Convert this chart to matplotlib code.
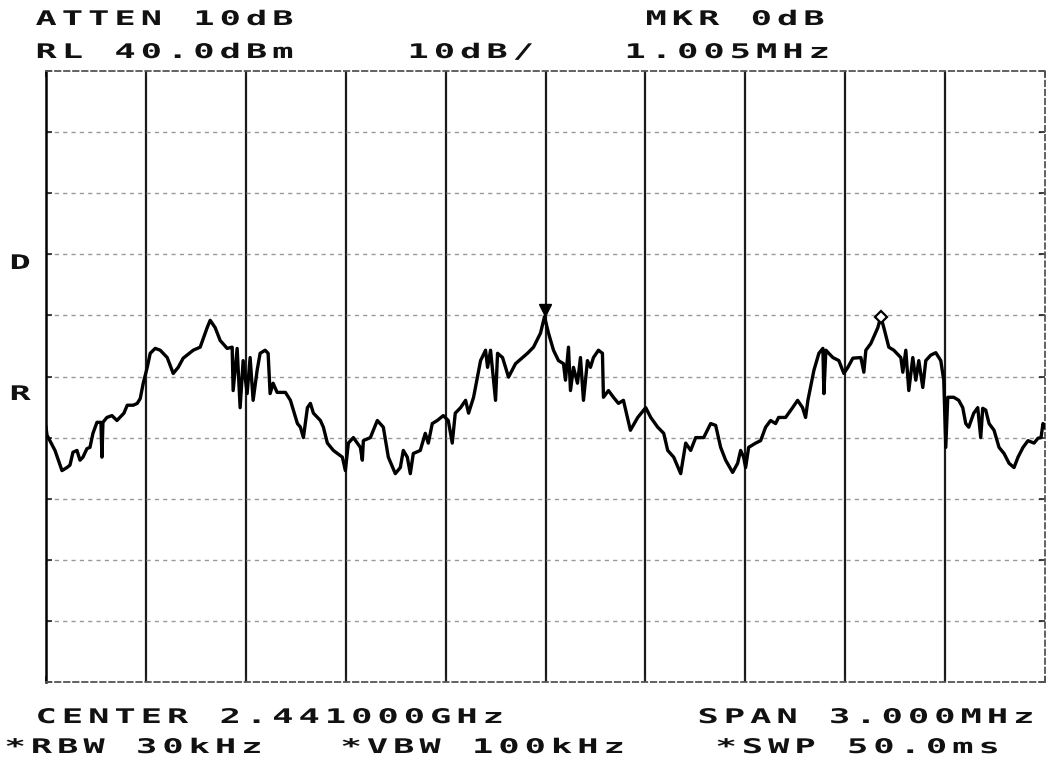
import numpy as np
import matplotlib
matplotlib.use("Agg")
import matplotlib.pyplot as plt
from matplotlib.path import Path
from matplotlib.patheffects import AbstractPathEffect
from matplotlib.transforms import offset_copy

# trace: offset from center (MHz), level (dBm)
freq_mhz = [
    -1.500, -1.497, -1.473, -1.452, -1.437, -1.428, -1.419, -1.407, -1.398, -1.389,
    -1.377, -1.368, -1.359, -1.347, -1.335, -1.332, -1.329, -1.317, -1.302, -1.287,
    -1.266, -1.256, -1.238, -1.226, -1.217, -1.208, -1.196, -1.187, -1.172, -1.157,
    -1.136, -1.118, -1.103, -1.088, -1.058, -1.037, -1.016, -1.007, -0.992, -0.977,
    -0.956, -0.941, -0.938, -0.926, -0.917, -0.908, -0.896, -0.887, -0.878, -0.866,
    -0.857, -0.842, -0.833, -0.827, -0.818, -0.806, -0.781, -0.766, -0.745, -0.736,
    -0.727, -0.715, -0.706, -0.697, -0.676, -0.667, -0.655, -0.637, -0.610, -0.601,
    -0.592, -0.577, -0.556, -0.550, -0.547, -0.526, -0.505, -0.487, -0.472, -0.451,
    -0.436, -0.427, -0.415, -0.406, -0.397, -0.376, -0.361, -0.352, -0.340, -0.325,
    -0.307, -0.292, -0.280, -0.271, -0.255, -0.240, -0.231, -0.216, -0.195, -0.180,
    -0.174, -0.165, -0.150, -0.144, -0.129, -0.111, -0.090, -0.069, -0.054, -0.036,
    -0.015, -0.003, 0.009, 0.024, 0.039, 0.054, 0.060, 0.069, 0.075, 0.084,
    0.096, 0.105, 0.114, 0.126, 0.135, 0.144, 0.159, 0.171, 0.174, 0.189,
    0.204, 0.219, 0.234, 0.255, 0.277, 0.301, 0.316, 0.337, 0.355, 0.367,
    0.385, 0.406, 0.421, 0.436, 0.451, 0.475, 0.496, 0.511, 0.526, 0.541,
    0.562, 0.577, 0.586, 0.595, 0.601, 0.610, 0.631, 0.646, 0.661, 0.676,
    0.691, 0.700, 0.721, 0.742, 0.757, 0.772, 0.781, 0.788, 0.806, 0.821,
    0.833, 0.836, 0.842, 0.863, 0.881, 0.896, 0.908, 0.923, 0.947, 0.956,
    0.962, 0.977, 0.998, 1.007, 1.016, 1.031, 1.046, 1.067, 1.073, 1.082,
    1.091, 1.103, 1.112, 1.121, 1.133, 1.142, 1.157, 1.172, 1.187, 1.196,
    1.202, 1.208, 1.226, 1.241, 1.253, 1.262, 1.271, 1.286, 1.298, 1.307,
    1.313, 1.322, 1.332, 1.347, 1.362, 1.377, 1.392, 1.407, 1.419, 1.434,
    1.449, 1.467, 1.479, 1.488, 1.494, 1.500,
]
level_dbm = [
    -18.3, -19.6, -22.1, -25.4, -24.9, -24.5, -22.4, -22.1, -23.7, -23.2,
    -21.8, -21.6, -19.3, -17.5, -17.5, -23.2, -17.5, -16.7, -16.4, -17.2,
    -16.0, -14.7, -14.7, -14.4, -13.6, -11.1, -8.5, -6.2, -5.4, -5.7,
    -6.9, -9.5, -8.5, -7.0, -5.7, -5.2, -2.0, -0.8, -2.0, -4.1,
    -5.4, -5.2, -12.3, -5.4, -15.1, -7.4, -12.8, -6.9, -13.9, -9.0,
    -6.2, -5.7, -6.2, -12.8, -11.1, -12.6, -12.6, -13.9, -17.7, -18.3,
    -20.0, -15.1, -14.4, -16.0, -17.2, -18.3, -20.9, -22.1, -23.2, -25.4,
    -20.9, -20.0, -21.6, -23.7, -20.5, -20.0, -17.2, -18.3, -23.2, -25.9,
    -24.9, -22.1, -23.2, -25.9, -22.6, -22.1, -19.3, -20.9, -17.7, -17.2,
    -16.4, -17.2, -20.9, -16.0, -15.1, -13.9, -16.0, -13.4, -7.4, -5.7,
    -8.5, -5.7, -13.9, -6.2, -6.9, -10.1, -7.9, -6.9, -6.2, -5.2,
    -2.9, -0.2, -2.9, -5.7, -7.4, -7.9, -10.6, -5.2, -12.3, -8.5,
    -11.1, -6.9, -13.9, -7.4, -8.5, -6.9, -5.7, -6.2, -13.4, -12.3,
    -13.4, -14.4, -13.9, -18.8, -16.7, -15.1, -16.7, -18.3, -19.3, -22.1,
    -23.2, -25.9, -20.9, -22.1, -20.0, -20.0, -17.7, -18.0, -21.6, -23.7,
    -25.7, -24.2, -22.1, -23.2, -24.9, -21.6, -20.9, -20.5, -18.3, -17.2,
    -17.7, -16.7, -16.7, -15.1, -13.9, -15.1, -16.7, -13.9, -9.0, -6.2,
    -5.4, -12.8, -5.7, -6.9, -7.4, -9.5, -8.5, -7.0, -6.9, -9.3,
    -5.7, -4.6, -2.0, -0.2, -2.0, -5.2, -5.7, -6.9, -9.3, -5.7,
    -12.3, -6.9, -10.6, -7.4, -11.8, -7.4, -6.5, -6.1, -7.4, -10.6,
    -21.6, -13.4, -13.4, -13.9, -15.1, -17.7, -18.3, -16.0, -15.1, -20.0,
    -15.2, -15.5, -17.7, -18.8, -21.6, -22.6, -24.2, -24.9, -23.2, -21.6,
    -20.5, -20.9, -20.1, -20.0, -17.7, -18.3,
]

# markers: reference marker (triangle) and delta marker (diamond)
marker_freq = [-0.003, 1.007]
marker_level = [-0.2, -0.2]

ref_level = 40.0
db_per_div = 10.0
span_mhz = 3.0

W, H = 1052, 766


class PlotterFont(AbstractPathEffect):
    """Spread the glyphs of a monospaced text onto the wide pitch of the plotter."""

    def __init__(self, pitch_px, widen, advance=60.2):
        super().__init__()
        self.pitch_px = pitch_px
        self.widen = widen
        self.advance = advance

    def draw_path(self, renderer, gc, tpath, affine, rgbFace=None):
        scale = affine.get_matrix()[0, 0]
        pitch = self.pitch_px / scale
        verts = tpath.vertices.copy()
        codes = tpath.codes
        starts = np.flatnonzero(codes == Path.MOVETO)
        ends = list(starts[1:]) + [len(codes)]
        for a, b in zip(starts, ends):
            keep = codes[a:b] != Path.CLOSEPOLY
            cx = verts[a:b, 0][keep].mean()
            cell = np.floor(cx / self.advance)
            mid = (cell + 0.5) * self.advance
            verts[a:b, 0] = (cell + 0.5) * pitch + (verts[a:b, 0] - mid) * self.widen
        renderer.draw_path(gc, Path(verts, codes), affine, rgbFace)


plotter = PlotterFont(pitch_px=26.3, widen=1.75)

fig = plt.figure(figsize=(W / 100, H / 100), dpi=100)
fig.patch.set_facecolor("white")


def label(x, y, s):
    fig.text(x / W, 1 - y / H, s, ha="left", va="baseline",
             family="DejaVu Sans Mono", fontweight="bold", fontsize=14.5,
             color="#111111", path_effects=[plotter])


ax = fig.add_axes([46 / W, 84 / H, 999 / W, 611 / H])
ax.set_xlim(-span_mhz / 2, span_mhz / 2)
ax.set_ylim(ref_level - 10 * db_per_div, ref_level)

xt = np.linspace(-span_mhz / 2, span_mhz / 2, 11)
yt = np.arange(ref_level - 10 * db_per_div, ref_level + 1, db_per_div)
ax.set_xticks(xt)
ax.set_yticks(yt)
ax.tick_params(direction="in", length=4, width=1.2, top=True, right=True,
               labelbottom=False, labelleft=False, color="#222222")

for x in xt[1:-1]:
    ax.axvline(x, color="#1a1a1a", lw=1.6, zorder=1)
for y in yt[1:-1]:
    ax.axhline(y, color="#999999", lw=1.0, ls=(0, (3, 3)), zorder=1)

for side in ["top", "bottom", "right"]:
    ax.spines[side].set_linestyle((0, (3, 2)))
    ax.spines[side].set_color("#555555")
    ax.spines[side].set_linewidth(1.3)
ax.spines["left"].set_color("black")
ax.spines["left"].set_linewidth(1.8)

ax.plot(freq_mhz, level_dbm, color="black", lw=2.4, solid_joinstyle="round", zorder=3)

up = offset_copy(ax.transData, fig=fig, y=4.5, units="points")
ax.plot(marker_freq[0], marker_level[0], marker="v", ms=8, color="black",
        transform=up, zorder=4)
ax.plot(marker_freq[1], marker_level[1], marker="D", ms=6, mfc="white",
        mec="black", mew=1.6, zorder=4)

label(33, 25, "ATTEN 10dB")
label(643, 25, "MKR 0dB")
label(33, 58, "RL 40.0dBm")
label(405, 58, "10dB/")
label(622, 58, "1.005MHz")
label(7, 269, "D")
label(7, 400, "R")
label(33, 723, "CENTER 2.441000GHz")
label(695, 723, "SPAN 3.000MHz")
label(2, 753, "*RBW 30kHz")
label(338, 753, "*VBW 100kHz")
label(713, 753, "*SWP 50.0ms")

fig.savefig("out.png", dpi=100, facecolor="white")
